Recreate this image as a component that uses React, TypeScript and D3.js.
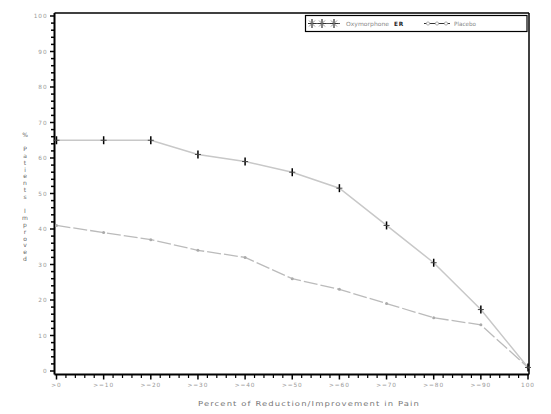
import React from "react";
import * as d3 from "d3";

const categories = [">0", ">=10", ">=20", ">=30", ">=40", ">=50", ">=60", ">=70", ">=80", ">=90", "100"];
const oxymorphone = [65, 65, 65, 61, 59, 56, 51.5, 41, 30.5, 17.3, 1];
const placebo = [41, 39, 37, 34, 32, 26, 23, 19, 15, 13, 1];
const yTicks = [0, 10, 20, 30, 40, 50, 60, 70, 80, 90, 100];
const yLabel = "% Patients Improved";
const xLabel = "Percent of Reduction/Improvement in Pain";

const W = 551, H = 414;
const L = 54.5, R = 529, T = 13, B = 374.5;

export default function App() {
  const x = d3.scalePoint<string>().domain(categories).range([56.5, 528]);
  const y = d3.scaleLinear().domain([0, 100]).range([371, 16]);
  const step = x.step();
  const line = d3.line<number>().x((_, i) => x(categories[i])!).y((d) => y(d));
  const minorY: number[] = [];
  for (let v = 0; v < 100; v += 2) if (v % 10 !== 0) minorY.push(v);
  const minorX: number[] = [];
  categories.forEach((_, i) => {
    if (i < categories.length - 1) for (let k = 1; k < 5; k++) minorX.push(x(categories[i])! + (k * step) / 5);
  });
  const tf = { fontFamily: "DejaVu Sans, sans-serif", fontSize: 5.8, fill: "#999", letterSpacing: 0.9 } as const;
  const lf = { fontFamily: "DejaVu Sans, sans-serif", fontSize: 5.8 } as const;

  return (
    <svg width={W} height={H} style={{ position: "absolute", left: 0, top: 0, background: "#fff" }}>
      <rect x={0} y={0} width={W} height={H} fill="#fff" />
      {/* frame */}
      <line x1={L} y1={T} x2={R} y2={T} stroke="#000" strokeWidth={1.5} />
      <line x1={R} y1={T} x2={R} y2={B} stroke="#000" strokeWidth={1.5} />
      <line x1={L} y1={T} x2={L} y2={B} stroke="#000" strokeWidth={2} />
      <line x1={L} y1={B} x2={R} y2={B} stroke="#000" strokeWidth={2} />
      {/* y ticks */}
      {yTicks.map((t) => (
        <g key={"y" + t}>
          <line x1={L - 4.5} x2={L} y1={y(t)} y2={y(t)} stroke="#000" strokeWidth={1.5} />
          <text x={L - 7} y={y(t) + 2.2} textAnchor="end" {...tf}>{t}</text>
        </g>
      ))}
      {minorY.map((t) => (
        <line key={"my" + t} x1={L - 3.5} x2={L} y1={y(t)} y2={y(t)} stroke="#000" strokeWidth={1.5} />
      ))}
      {/* x ticks */}
      {categories.map((c) => (
        <g key={"x" + c}>
          <line x1={x(c)} x2={x(c)} y1={B} y2={B + 5} stroke="#000" strokeWidth={1.5} />
          <text x={x(c)} y={B + 12.5} textAnchor="middle" {...tf}>{c}</text>
        </g>
      ))}
      {minorX.map((v, i) => (
        <line key={"mx" + i} x1={v} x2={v} y1={B} y2={B + 3.5} stroke="#000" strokeWidth={1.2} />
      ))}
      {/* axis labels */}
      <text x={198} y={406} textLength={222} lengthAdjust="spacingAndGlyphs" {...tf} fontSize={6.8} fill="#777">{xLabel}</text>
      <text x={25} y={137} textAnchor="middle" fontFamily="DejaVu Sans, sans-serif" fontSize={6} fill="#666">
        {yLabel.split("").map((ch, i) => (
          <tspan key={i} x={25} dy={i === 0 ? 0 : 6.9} fill="#666">{ch === " " ? "\u00a0" : ch}</tspan>
        ))}
      </text>
      {/* placebo */}
      <path d={line(placebo)!} fill="none" stroke="#bbb" strokeWidth={1.3} strokeDasharray="14 3" />
      {placebo.map((v, i) => (
        <circle key={"p" + i} cx={x(categories[i])} cy={y(v)} r={1.5} fill="#aaa" />
      ))}
      {/* oxymorphone */}
      <path d={line(oxymorphone)!} fill="none" stroke="#c8c8c8" strokeWidth={1.5} />
      {oxymorphone.map((v, i) => {
        const cx = x(categories[i])!, cy = y(v);
        return (
          <g key={"o" + i}>
            <line x1={cx} x2={cx} y1={cy - 4} y2={cy + 4} stroke="#000" strokeWidth={1.5} />
            <line x1={cx - 3} x2={cx + 3} y1={cy} y2={cy} stroke="#444" strokeWidth={1} />
          </g>
        );
      })}
      {/* legend */}
      <rect x={305.5} y={15.5} width={221.5} height={16} fill="#fff" stroke="#000" strokeWidth={1.2} />
      <line x1={310} x2={340} y1={23.5} y2={23.5} stroke="#555" strokeWidth={1} />
      {[312, 322, 334].map((cx) => (
        <g key={"lo" + cx}>
          <line x1={cx} x2={cx} y1={19} y2={28} stroke="#333" strokeWidth={1.2} />
          <line x1={cx - 4} x2={cx + 4} y1={23.5} y2={23.5} stroke="#333" strokeWidth={1} />
          <line x1={cx - 3} x2={cx + 3} y1={20.5} y2={26.5} stroke="#777" strokeWidth={0.8} />
          <line x1={cx - 3} x2={cx + 3} y1={26.5} y2={20.5} stroke="#777" strokeWidth={0.8} />
        </g>
      ))}
      <text x={346} y={25.5} {...lf} fill="#888" textLength={43} lengthAdjust="spacingAndGlyphs">Oxymorphone</text>
      <text x={394} y={25.5} {...lf} fill="#222" fontWeight="bold" letterSpacing={0.8}>ER</text>
      <line x1={424} x2={450} y1={23.5} y2={23.5} stroke="#333" strokeWidth={1} />
      {[428, 437, 446].map((cx) => (
        <circle key={"lp" + cx} cx={cx} cy={23.5} r={1.6} fill="#fff" stroke="#999" strokeWidth={0.8} />
      ))}
      <text x={454} y={25.5} {...lf} fill="#888" textLength={22} lengthAdjust="spacingAndGlyphs">Placebo</text>
    </svg>
  );
}
